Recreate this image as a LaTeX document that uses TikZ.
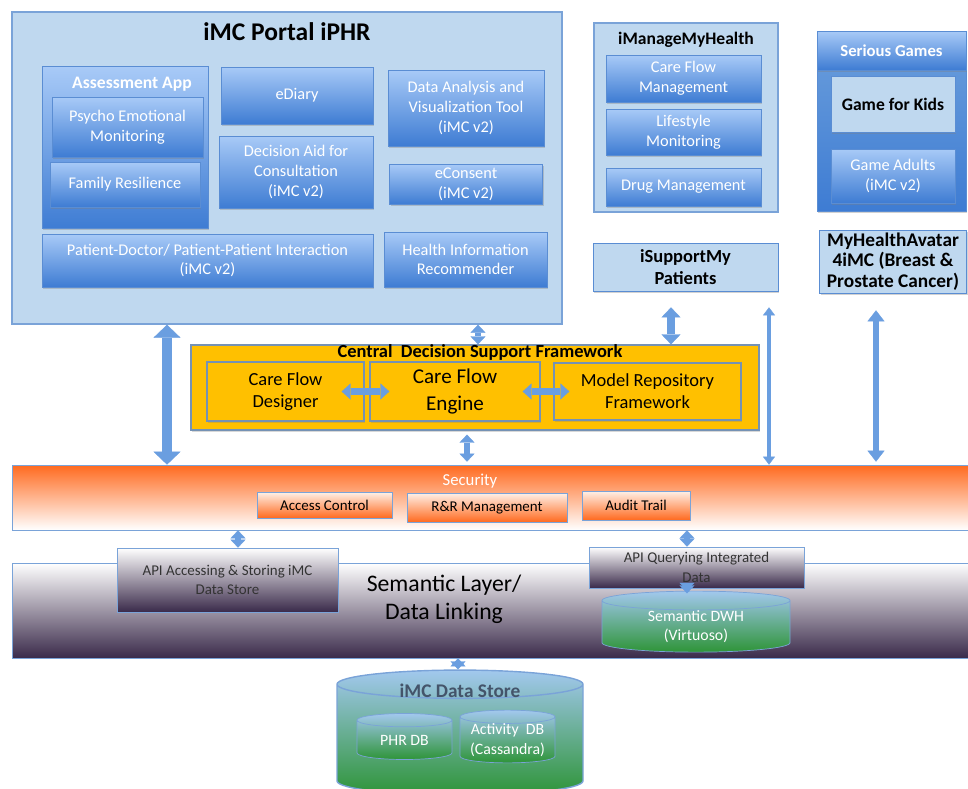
\documentclass[tikz,border=0pt]{standalone}
\usepackage{fontspec}
\setmainfont{Carlito}
\usetikzlibrary{arrows.meta,shapes.geometric,shadows}

\definecolor{pale}{HTML}{BFD8EF}
\definecolor{edge}{HTML}{7AA3D8}
\definecolor{btop}{HTML}{A8CAF7}
\definecolor{bbot}{HTML}{3E7CD3}
\definecolor{bedge}{HTML}{5A8DD3}
\definecolor{gold}{HTML}{FFC000}
\definecolor{goldedge}{HTML}{7592B4}
\definecolor{sec}{HTML}{FF6A1F}
\definecolor{secmid}{HTML}{FFC3A3}
\definecolor{peach}{HTML}{FFF1E8}
\definecolor{plum}{HTML}{3A2A4A}
\definecolor{plummid}{HTML}{CFCAD3}
\definecolor{dbtop}{HTML}{A2C8EE}
\definecolor{dbblue}{HTML}{6C9FDC}
\definecolor{dbgreen}{HTML}{2E9438}
\definecolor{arrowblue}{HTML}{6A9EE0}
\definecolor{slate}{HTML}{44546A}

\begin{document}
\begin{tikzpicture}[x=0.2mm, y=-0.2mm, inner sep=0pt, align=center,
    wh/.style 2 args={minimum width=#1*0.2mm, minimum height=#2*0.2mm},
    pane/.style={draw=edge, fill=pale, line width=0.8pt},
    app/.style={draw=bedge, top color=btop, bottom color=bbot, text=white,
        font=\fontsize{9.3}{11.2}\selectfont,
        drop shadow={shadow xshift=0.6pt, shadow yshift=-0.9pt, opacity=0.35}},
    tag/.style={draw=bedge, fill=pale, font=\bfseries\fontsize{10}{12}\selectfont,
        drop shadow={shadow xshift=0.6pt, shadow yshift=-0.9pt, opacity=0.35}},
    core/.style={draw=goldedge, fill=gold, line width=0.7pt, font=\fontsize{10.5}{12.5}\selectfont,
        drop shadow={shadow xshift=0.6pt, shadow yshift=-0.9pt, opacity=0.3}},
    guard/.style={draw=edge, top color=peach, bottom color=sec, font=\fontsize{8.5}{10}\selectfont},
    api/.style={draw=edge, top color=white, middle color=plummid, bottom color=plum,
        text=black!80, font=\fontsize{8.5}{11}\selectfont},
    db/.style={cylinder, shape border rotate=90, draw=edge, top color=dbtop, bottom color=dbgreen,
        text=white, align=flush center, font=\fontsize{9}{11}\selectfont},
    link/.style n args={3}{draw=arrowblue, line width=#1,
        arrows={Triangle[width=#2,length=#3,line width=0.2pt]-Triangle[width=#2,length=#3,line width=0.2pt]}},
]
\useasboundingbox[fill=white] (0,0) rectangle (968,789);
\clip (0,0) rectangle (968,789);

% portal
\node[pane, wh={550}{312}] (portal) at (287,168) {};
\node[font=\bfseries\fontsize{14.5}{17}\selectfont] (portaltitle) at (287,32) {iMC Portal iPHR};
\node[app, wh={166}{162}] (assess) at (125,147.5) {};
\node[text=white, font=\bfseries\fontsize{10}{12}\selectfont] (assesstitle) at (132,84) {Assessment App};
\node[app, wh={151}{60}] (psycho) at (127.5,127) {Psycho Emotional\\Monitoring};
\node[app, wh={150}{45}] (family) at (125,184.5) {Family Resilience};
\node[app, wh={152}{57}] (ediary) at (297,95.5) {eDiary};
\node[app, wh={154}{72}] (aid) at (296,172) {Decision Aid for\\Consultation\\(iMC v2)};
\node[app, wh={156}{76}] (analysis) at (466,108) {Data Analysis and\\Visualization Tool\\(iMC v2)};
\node[app, wh={153}{40}] (consent) at (466,184) {eConsent\\(iMC v2)};
\node[app, wh={331}{53}] (interact) at (207.5,260.5) {Patient-Doctor/ Patient-Patient Interaction\\(iMC v2)};
\node[app, wh={163}{55}] (recommend) at (465.5,259.5) {Health Information\\Recommender};

% iManageMyHealth
\node[pane, wh={184}{189}] (manage) at (686,117.5) {};
\node[font=\bfseries\fontsize{10}{12}\selectfont] (managetitle) at (686,40) {iManageMyHealth};
\node[app, wh={155}{47}] (careflow) at (683.5,78.5) {Care Flow\\Management};
\node[app, wh={155}{46}] (lifestyle) at (683.5,132) {Lifestyle\\Monitoring};
\node[app, wh={155}{38}] (drug) at (683.5,187) {Drug Management};

% serious games
\node[app, wh={149}{180}, top color=dbblue] (games) at (891.5,121) {};
\node[app, wh={149}{39}, font=\bfseries\fontsize{9.5}{11}\selectfont] (gamestitle) at (891.5,50.5) {Serious Games};
\node[tag, wh={124}{56}] (kids) at (893,104) {Game for Kids};
\node[app, wh={124}{54}] (adults) at (893,176) {Game Adults\\(iMC v2)};

\node[tag, wh={185}{48}, font=\bfseries\fontsize{10.5}{12.5}\selectfont] (support) at (685.5,267) {iSupportMy\\Patients};
\node[tag, wh={147}{63}, font=\bfseries\fontsize{11}{11.6}\selectfont] (avatar) at (893,261.5) {MyHealthAvatar\\4iMC (Breast \&\\Prostate Cancer)};

% decision support
\node[core, wh={568}{85}] (cdsf) at (475,387.5) {};
\node[font=\bfseries\fontsize{10.5}{12}\selectfont] (cdsftitle) at (480,352) {Central\ \ Decision Support Framework};
\node[core, wh={157}{59}] (designer) at (285.5,391.5) {Care Flow\\Designer};
\node[core, wh={170}{59}, font=\fontsize{12}{15}\selectfont] (engine) at (455,391.5) {Care Flow\\Engine};
\node[core, wh={187}{57}] (repo) at (647.5,391.5) {Model Repository\\Framework};

% security
\node[draw=edge, wh={963}{65}, top color=sec, middle color=secmid, bottom color=white] (security) at (493.5,497.5) {};
\node[text=white, font=\fontsize{9.5}{11}\selectfont] (sectitle) at (470,481) {Security};
\node[guard, wh={135}{26}] (access) at (324.5,505) {Access Control};
\node[guard, wh={160}{29}] (roles) at (487,507.5) {R\&R Management};
\node[guard, wh={108}{29}] (audit) at (636,505.5) {Audit Trail};

% semantic layer
\node[draw=edge, wh={963}{95}, top color=white, middle color=plummid, bottom color=plum] (semantic) at (493.5,610.5) {};
\node[font=\fontsize{13.5}{16}\selectfont] (semtitle) at (444,599) {Semantic Layer/\\Data Linking};
\node[api, wh={221}{64}] (apistore) at (227.5,580) {API Accessing \& Storing iMC\\Data Store};
\node[api, wh={215}{41}] (apiquery) at (696.5,567.5) {API Querying Integrated\\Data};
\node[db, text width=37.6mm, wh={188}{47}, aspect=0.1] (dwh) at (696,626.5) {Semantic DWH\\(Virtuoso)};

% data store
\node[db, text width=49.2mm, wh={246}{125}, aspect=0.115, line width=0.8pt,
    top color=dbtop, middle color=dbblue, bottom color=dbgreen] (store) at (460,740) {};
\node[text=slate, font=\bfseries\fontsize{11}{13}\selectfont] (storetitle) at (460,691) {iMC Data Store};
\node[db, text width=19mm, wh={95}{46}, aspect=0.14] (phr) at (404.5,740) {PHR DB};
\node[db, text width=19mm, wh={95}{46}, aspect=0.14] (activity) at (507.5,740) {Activity\ \ DB\\(Cassandra)};

% links
\draw[link={2mm}{5.4mm}{2.6mm}] (167,0 |- portal.south) -- (167,0 |- security.north);
\draw[link={1.2mm}{3mm}{1.6mm}] (478,0 |- portal.south) -- (478,0 |- cdsf.north);
\draw[link={1.2mm}{3mm}{1.6mm}, shorten <=0.8mm, shorten >=0.6mm] (467,0 |- cdsf.south) -- (467,0 |- security.north);
\draw[link={1.6mm}{3.8mm}{2mm}, shorten <=3.2mm] (671,0 |- support.south) -- (671,0 |- cdsf.north);
\draw[link={0.9mm}{2.4mm}{1.6mm}, shorten <=3.2mm] (769,0 |- support.south) -- (769,0 |- security.north);
\draw[link={1.3mm}{3.4mm}{2.2mm}, shorten <=3.4mm, shorten >=0.6mm] (876,0 |- avatar.south) -- (876,0 |- security.north);
\draw[link={1.3mm}{3.2mm}{1.8mm}, shorten <=-4.6mm, shorten >=-4mm] (designer.east) -- (engine.west);
\draw[link={1.3mm}{3.2mm}{1.8mm}, shorten <=-3.6mm, shorten >=-3.2mm] (engine.east) -- (repo.west);
\draw[link={1.2mm}{3mm}{1.6mm}] (238,0 |- security.south) -- (238,0 |- apistore.north);
\draw[link={1.2mm}{3mm}{1.6mm}] (687,0 |- security.south) -- (687,0 |- apiquery.north);
\draw[link={1.2mm}{3mm}{1.6mm}, shorten <=-1mm] (687,0 |- apiquery.south) -- (687,0 |- dwh.north);
\draw[link={1.2mm}{3mm}{1.6mm}] (458,0 |- semantic.south) -- (458,0 |- store.north);
\end{tikzpicture}
\end{document}
